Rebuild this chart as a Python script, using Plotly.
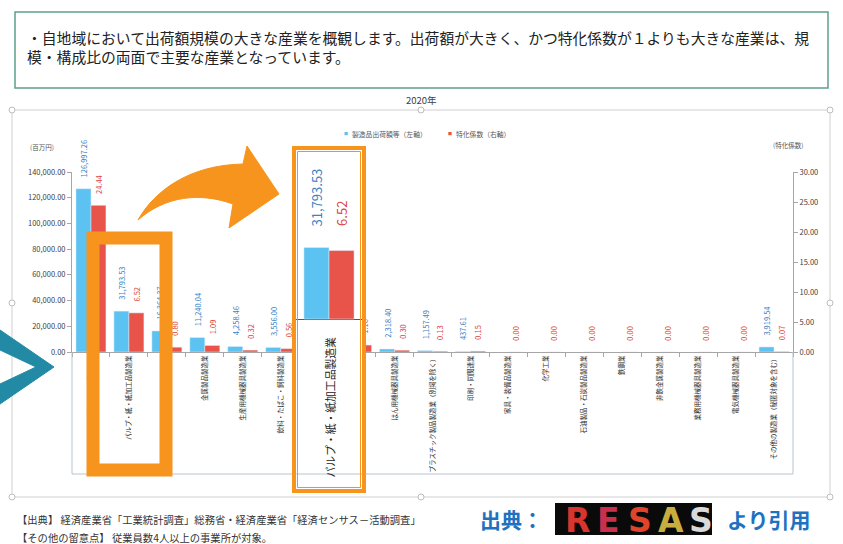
import plotly.graph_objects as go

# ---------------- data ----------------
categories = [
    "窯業・土石製品製造業", "パルプ・紙・紙加工品製造業", "食料品製造業", "金属製品製造業",
    "生産用機械器具製造業", "飲料・たばこ・飼料製造業", "木材・木製品製造業（家具を除く）", "繊維工業",
    "はん用機械器具製造業", "プラスチック製品製造業（別掲を除く）", "印刷・同関連業", "家具・装備品製造業",
    "化学工業", "石油製品・石炭製品製造業", "鉄鋼業", "非鉄金属製造業", "業務用機械器具製造業",
    "電気機械器具製造業", "その他の製造業（秘匿対象を含む）",
]
shipments = [126997.26, 31793.53, 16364.37, 11240.04, 4258.46, 3556.00, 3100.00, 2600.00,
             2318.40, 1157.49, 437.61, None, None, None, None, None, None, None, 3919.54]
coefficients = [24.44, 6.52, 0.80, 1.09, 0.32, 0.56, 0.90, 1.16,
                0.30, 0.13, 0.15, 0.00, 0.00, 0.00, 0.00, 0.00, 0.00, 0.00, 0.07]
left_ticks = [0, 20000, 40000, 60000, 80000, 100000, 120000, 140000]
right_ticks = [0, 5, 10, 15, 20, 25, 30]
focus = 1
title_text = "2020年"
legend_labels = ["製造品出荷額等（左軸）", "特化係数（右軸）"]
left_unit = "(百万円)"
right_unit = "(特化係数)"
intro_lines = ["・自地域において出荷額規模の大きな産業を概観します。出荷額が大きく、かつ特化係数が１よりも大きな産業は、規",
               "模・構成比の両面で主要な産業となっています。"]
source_lines = ["【出典】 経済産業省「工業統計調査」総務省・経済産業省「経済センサス－活動調査」",
                "【その他の留意点】 従業員数4人以上の事業所が対象。"]

# ---------------- style ----------------
W, H = 843, 544
FONT = "Noto Sans CJK JP, Noto Sans, sans-serif"
BLUE_BAR = "#5BC2F1"
RED_BAR = "#E8544A"
BLUE_TXT = "#3C82C4"
RED_TXT = "#D8453E"
ORANGE = "#F7941D"
AXIS = "#A6A6A6"
TXT = "#404040"


def gap(s):
    # invisible leading characters that keep the label clear of the bar end
    return f'<span style="color:rgba(0,0,0,0)">{s}</span>'


def X(p):
    return p / W


def Y(p):
    return 1 - p / H


# main plot area in px
L, R, T, B = 72, 793, 172, 352
BW = 0.395  # bar width in category units

fig = go.Figure()

fig.add_trace(go.Bar(
    x=categories, y=shipments, name=legend_labels[0], marker_color=BLUE_BAR,
    width=BW, offset=-BW, xaxis="x", yaxis="y",
    text=[(gap("00") + f"{v:,.2f}") if v is not None else "" for v in shipments],
    textposition="outside", textangle=-90, constraintext="none", cliponaxis=False,
    textfont=dict(size=7.5, color=BLUE_TXT, family=FONT), showlegend=False,
))
fig.add_trace(go.Bar(
    x=categories, y=coefficients, name=legend_labels[1], marker_color=RED_BAR,
    width=BW, offset=0, xaxis="x", yaxis="y2",
    text=[(gap("00") + f"{v:.2f}") for v in coefficients],
    textposition="outside", textangle=-90, constraintext="none", cliponaxis=False,
    textfont=dict(size=7.5, color=RED_TXT, family=FONT), showlegend=False,
))

# ---- enlarged inset of the focus industry ----
ZOOM = 1.75
IN_L, IN_R, IN_T, IN_B, IN_ZERO = 296, 362, 150, 489, 319
k_blue = ZOOM * (B - T) / left_ticks[-1]
k_red = ZOOM * (B - T) / right_ticks[-1]

fig.add_trace(go.Bar(
    x=[categories[focus]], y=[shipments[focus]], marker_color=BLUE_BAR,
    width=BW, offset=-BW, xaxis="x3", yaxis="y3",
    text=[gap("00.") + f"{shipments[focus]:,.2f}"], textposition="outside", textangle=-90,
    constraintext="none", cliponaxis=False,
    textfont=dict(size=13, color=BLUE_TXT, family=FONT), showlegend=False,
))
fig.add_trace(go.Bar(
    x=[categories[focus]], y=[coefficients[focus]], marker_color=RED_BAR,
    width=BW, offset=0, xaxis="x3", yaxis="y4",
    text=[gap("000") + f"{coefficients[focus]:.2f}"], textposition="outside", textangle=-90,
    constraintext="none", cliponaxis=False,
    textfont=dict(size=13, color=RED_TXT, family=FONT), showlegend=False,
))

axis_common = dict(automargin=False, showgrid=False, zeroline=False)

fig.update_layout(
    width=W, height=H, margin=dict(l=0, r=0, t=0, b=0),
    paper_bgcolor="white", plot_bgcolor="white",
    barmode="overlay", bargap=0.21, showlegend=False,
    font=dict(family=FONT, color=TXT),
    xaxis=dict(domain=[X(L), X(R)], anchor="y", type="category", range=[-0.5, len(categories) - 0.5],
               showline=True, linecolor=AXIS, linewidth=1, ticks="outside", ticklen=4, tickcolor=AXIS,
               tickson="boundaries", tickangle=-90, dtick=1,
               tickfont=dict(size=6.5, color="#2A2A2A", family=FONT), **axis_common),
    yaxis=dict(domain=[Y(B), Y(T)], anchor="x", range=[0, left_ticks[-1]], tickvals=left_ticks,
               tickformat=",.2f", showline=True, linecolor=AXIS, ticks="outside", ticklen=4,
               tickcolor=AXIS, tickfont=dict(size=7.5, color=TXT, family=FONT), **axis_common),
    yaxis2=dict(overlaying="y", side="right", anchor="x", range=[0, right_ticks[-1]], tickvals=right_ticks,
                tickformat=".2f", showline=True, linecolor=AXIS, ticks="outside", ticklen=4,
                tickcolor=AXIS, tickfont=dict(size=7.5, color=TXT, family=FONT), **axis_common),
    xaxis3=dict(domain=[X(IN_L), X(IN_R)], anchor="y3", type="category", range=[-0.52, 0.52],
                showticklabels=False, ticks="", showline=False, **axis_common),
    yaxis3=dict(domain=[Y(IN_B), Y(IN_T)], anchor="x3",
                range=[-(IN_B - IN_ZERO) / k_blue, (IN_ZERO - IN_T) / k_blue],
                showticklabels=False, ticks="", showline=False, showgrid=False, automargin=False,
                zeroline=True, zerolinecolor="#555555", zerolinewidth=1.3),
    yaxis4=dict(overlaying="y3", anchor="x3",
                range=[-(IN_B - IN_ZERO) / k_red, (IN_ZERO - IN_T) / k_red],
                showticklabels=False, ticks="", showline=False, **axis_common),
)

shapes = []
annotations = []


def rect(x0, y0, x1, y1, **kw):
    d = dict(type="rect", xref="paper", yref="paper", x0=X(x0), y0=Y(y0), x1=X(x1), y1=Y(y1))
    d.update(kw)
    shapes.append(d)


def line(x0, y0, x1, y1, color, width=1):
    shapes.append(dict(type="line", xref="paper", yref="paper", x0=X(x0), y0=Y(y0), x1=X(x1), y1=Y(y1),
                       line=dict(color=color, width=width)))


def path(cmds, **kw):
    parts = []
    for c in cmds:
        if isinstance(c, str):
            parts.append(c)
        else:
            parts.append(f"{X(c[0]):.5f},{Y(c[1]):.5f}")
    d = dict(type="path", xref="paper", yref="paper", path=" ".join(parts))
    d.update(kw)
    shapes.append(d)


def text(x, y, s, size, color=TXT, xanchor="left", yanchor="middle", angle=0, **kw):
    a = dict(xref="paper", yref="paper", x=X(x), y=Y(y), text=s, showarrow=False,
             xanchor=xanchor, yanchor=yanchor, textangle=angle,
             font=dict(size=size, color=color, family=kw.pop("family", FONT)))
    a.update(kw)
    annotations.append(a)


# intro text box
rect(15, 12, 828, 88, line=dict(color="#5E9F8E", width=1.5), fillcolor="rgba(0,0,0,0)", layer="below")
text(25, 38, intro_lines[0], 14.8, color="#222222")
text(25, 57, intro_lines[1], 14.8, color="#222222")

# chart frame with selection handles
rect(12, 110, 830, 497, line=dict(color="#D0D0D0", width=1), layer="below")
for hx, hy in [(12, 110), (421, 110), (830, 110), (12, 303), (830, 303), (12, 497), (421, 497), (830, 497)]:
    shapes.append(dict(type="circle", xref="paper", yref="paper", x0=X(hx - 3), x1=X(hx + 3),
                       y0=Y(hy + 3), y1=Y(hy - 3), line=dict(color="#BDBDBD", width=1),
                       fillcolor="white", layer="above"))
text(421, 100, title_text, 9.5, color=TXT, xanchor="center")

# plot-area border below the axis
line(L, B, L, 474, "#B9C3CC")
line(R, B, R, 474, "#B9C3CC")
line(L, 474, R, 474, "#B9C3CC")

# legend
text(346, 134, "■", 4, color=BLUE_BAR, xanchor="center")
text(350, 134, legend_labels[0], 6.8, color="#555555")
text(450, 134, "■", 4, color=RED_BAR, xanchor="center")
text(454, 134, legend_labels[1], 6.8, color="#555555")

# axis units
text(42, 147, left_unit, 6.5, color="#555555", xanchor="center")
text(788, 145, right_unit, 6.5, color="#555555", xanchor="center")

# left orange highlight box
rect(93, 238, 166, 470, line=dict(color=ORANGE, width=13), layer="above")

# inset box (double border)
rect(294, 148, 364, 491, line=dict(color=ORANGE, width=4), layer="above")
rect(297.5, 151.5, 360.5, 487.5, line=dict(color=ORANGE, width=1), layer="above")
annotations.append(dict(xref="x3", yref="y3", x=categories[focus], y=0, yshift=-16,
                        text=categories[focus], showarrow=False, textangle=-90,
                        xanchor="center", yanchor="top",
                        font=dict(size=10.8, color="#222222", family=FONT)))

# curved arrow
path(["M", (138, 220), "C", (155, 190), (190, 165), (243, 164), "L", (247, 146), "L", (279, 194),
      "L", (229, 228), "L", (233, 204), "C", (200, 192), (165, 196), (138, 220), "Z"],
     fillcolor=ORANGE, line=dict(color=ORANGE, width=1), layer="above")

# chevron on the left
path(["M", (0, 330), "L", (54, 367), "L", (0, 404), "L", (0, 384), "L", (36, 367), "L", (0, 350), "Z"],
     fillcolor="#238AA6", line=dict(color="#238AA6", width=1), layer="above")

# footer
text(15, 519, source_lines[0], 10.3, color="#333333")
text(15, 537, source_lines[1], 10.3, color="#333333")
text(478, 519, "<b>出典：</b>", 21, color="#1E72C0")
rect(555, 503, 712, 535, fillcolor="#0A0A0A", line=dict(width=0), layer="above")
for ch, cx, col in [("R", 577, "#D8352E"), ("E", 608, "#C9304F"), ("S", 640, "#E0452C"),
                    ("A", 671, "#C8AE3E"), ("S", 701, "#D9D9D9")]:
    text(cx, 520, f"<b>{ch}</b>", 33, color=col, xanchor="center", family="DejaVu Sans, sans-serif")
text(725, 519, "<b>より引用</b>", 21, color="#1E72C0")

fig.update_layout(shapes=shapes, annotations=annotations)
fig.write_html("out.html")
